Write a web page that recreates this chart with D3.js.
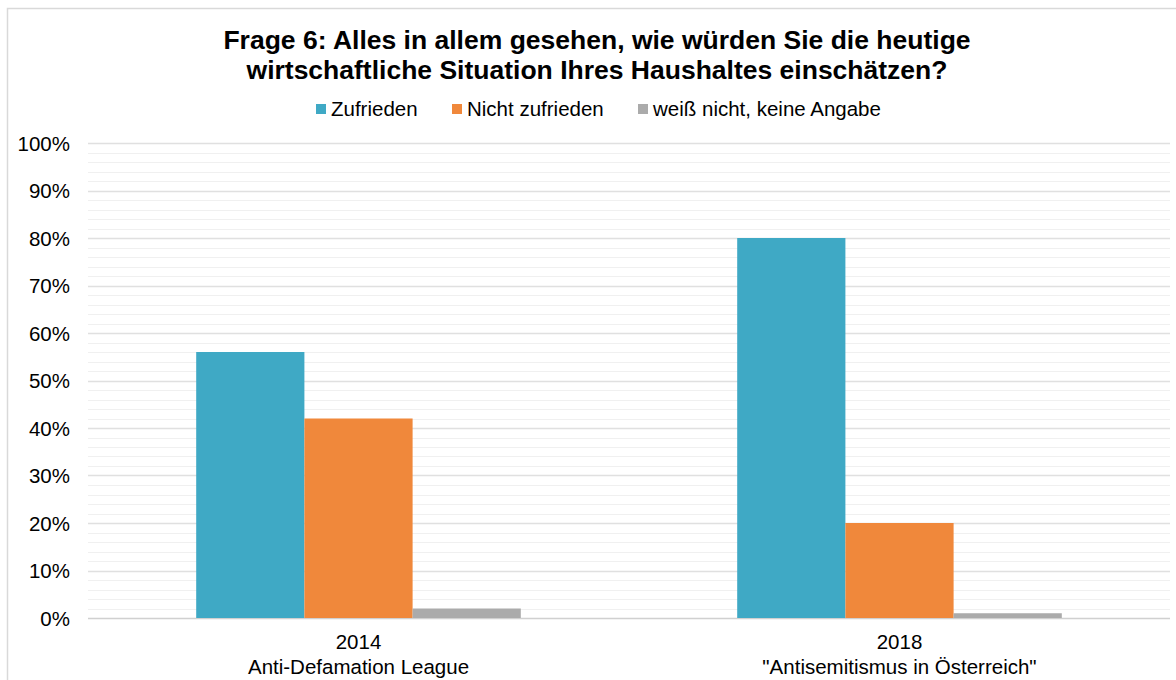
<!DOCTYPE html>
<html>
<head>
<meta charset="utf-8">
<script src="https://cdn.jsdelivr.net/npm/d3@7"></script>
<style>
  body { margin: 0; background: #fff; }
  svg text { font-family: "Liberation Sans", Arial, sans-serif; fill: #000; }
</style>
</head>
<body>
<div id="chart"></div>
<script>
// data
const groups = ["2014", "2018"];
const groupSubs = ["Anti-Defamation League", "\"Antisemitismus in Österreich\""];
const seriesNames = ["Zufrieden", "Nicht zufrieden", "weiß nicht, keine Angabe"];
const seriesColors = ["#3fa9c5", "#f0883b", "#ababab"];
const zufrieden = [56, 80];
const nichtZufrieden = [42, 20];
const weissNicht = [2, 1];
const yTicks = [0, 10, 20, 30, 40, 50, 60, 70, 80, 90, 100];

const seriesValues = [zufrieden, nichtZufrieden, weissNicht];

const W = 1176, H = 680;
const margin = { top: 143, right: 6, bottom: 62, left: 88 };
const labelSize = "20.5px";

const svg = d3.select("#chart").append("svg")
    .attr("width", W)
    .attr("height", H);

// outer chart border (runs off right / bottom edge)
svg.append("rect")
    .attr("x", 7.5).attr("y", 8.5)
    .attr("width", W + 20).attr("height", H + 20)
    .attr("fill", "none")
    .attr("stroke", "#d9d9d9")
    .attr("stroke-width", 1.5);

const x0 = d3.scaleBand()
    .domain(groups)
    .range([margin.left, W - margin.right])
    .paddingInner(0.4)
    .paddingOuter(0.2);

// band for one group = 3 bars
const x1 = d3.scaleBand()
    .domain(d3.range(seriesNames.length))
    .range([0, x0.bandwidth()]);

const y = d3.scaleLinear()
    .domain([0, 100])
    .range([H - margin.bottom, margin.top]);

// minor grid every 2%
const grid = svg.append("g");
grid.selectAll("line.minor")
    .data(d3.range(2, 100, 2).filter(v => v % 10 !== 0))
    .join("line")
    .attr("class", "minor")
    .attr("x1", margin.left).attr("x2", W - margin.right)
    .attr("y1", d => Math.round(y(d)) + 0.5).attr("y2", d => Math.round(y(d)) + 0.5)
    .attr("stroke", "#f0f0f0")
    .attr("stroke-width", 1);

grid.selectAll("line.major")
    .data(yTicks)
    .join("line")
    .attr("class", "major")
    .attr("x1", margin.left).attr("x2", W - margin.right)
    .attr("y1", d => Math.round(y(d)) + 0.5).attr("y2", d => Math.round(y(d)) + 0.5)
    .attr("stroke", d => d === 0 ? "#d0d0d0" : "#e0e0e0")
    .attr("stroke-width", 1.5);

// y axis labels
const yAxis = d3.axisLeft(y)
    .tickValues(yTicks)
    .tickFormat(d => d + "%")
    .tickSize(0)
    .tickPadding(0);

svg.append("g")
    .attr("transform", `translate(70,0)`)
    .call(yAxis)
    .call(g => g.select(".domain").remove())
    .call(g => g.selectAll("text")
        .attr("dy", "0.35em")
        .style("font-size", labelSize)
        .style("font-family", "Liberation Sans, Arial, sans-serif")
        .attr("fill", "#000"));

// bars
const barG = svg.append("g");
groups.forEach((grp, gi) => {
    barG.selectAll(null)
        .data(seriesValues.map((vals, si) => ({ si: si, v: vals[gi] })))
        .join("rect")
        .attr("x", d => x0(grp) + x1(d.si))
        .attr("width", x1.bandwidth())
        .attr("y", d => y(d.v))
        .attr("height", d => y(0) - y(d.v))
        .attr("fill", d => seriesColors[d.si]);
});

// x axis labels
const xLab = svg.append("g");
groups.forEach((grp, gi) => {
    const cx = x0(grp) + x0.bandwidth() / 2;
    xLab.append("text")
        .attr("x", cx).attr("y", 649)
        .attr("text-anchor", "middle")
        .style("font-size", labelSize)
        .text(grp);
    xLab.append("text")
        .attr("x", cx).attr("y", 674)
        .attr("text-anchor", "middle")
        .style("font-size", labelSize)
        .text(groupSubs[gi]);
});

// title
const title = svg.append("text")
    .attr("x", 597)
    .attr("text-anchor", "middle")
    .style("font-size", "26.5px")
    .style("font-weight", "bold");
title.append("tspan").attr("x", 597).attr("y", 49)
    .text("Frage 6: Alles in allem gesehen, wie würden Sie die heutige");
title.append("tspan").attr("x", 597).attr("y", 79)
    .text("wirtschaftliche Situation Ihres Haushaltes einschätzen?");

// legend
const legendX = [316, 452, 638];
const legend = svg.append("g");
seriesNames.forEach((name, i) => {
    legend.append("rect")
        .attr("x", legendX[i]).attr("y", 104)
        .attr("width", 10).attr("height", 10)
        .attr("fill", seriesColors[i]);
    legend.append("text")
        .attr("x", legendX[i] + 15).attr("y", 116)
        .style("font-size", labelSize)
        .text(name);
});
</script>
</body>
</html>
